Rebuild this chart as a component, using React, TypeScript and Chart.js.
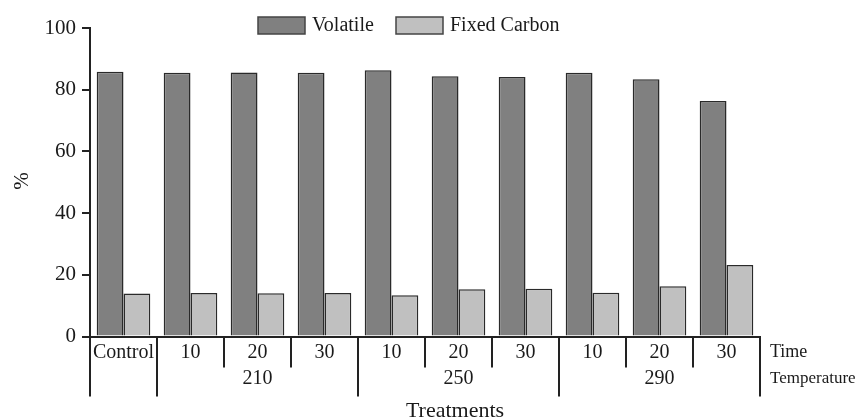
import React, { useEffect, useRef } from "react";
import { Chart, registerables } from "chart.js";

Chart.register(...registerables);

const timeLabels = ["Control", "10", "20", "30", "10", "20", "30", "10", "20", "30"];
const temperatureLabels = ["210", "250", "290"];
const temperatureStart = [1, 4, 7];
const temperatureEnd = [3, 6, 9];
const volatile = [85.8, 85.5, 85.6, 85.5, 86.3, 84.4, 84.1, 85.5, 83.4, 76.3];
const fixedCarbon = [13.9, 14.1, 14.0, 14.1, 13.4, 15.3, 15.5, 14.2, 16.3, 23.2];
const seriesNames = ["Volatile", "Fixed Carbon"];
const yTicks = [0, 20, 40, 60, 80, 100];

const FONT = "'Liberation Serif', 'Times New Roman', serif";
const INK = "#1a1a1a";

const decorPlugin = {
  id: "decor",
  afterDraw(chart: any) {
    const ctx = chart.ctx;
    const x = chart.scales.x;
    const area = chart.chartArea;
    const half = (x.getPixelForValue(1) - x.getPixelForValue(0)) / 2;
    const axisY = area.bottom;
    ctx.save();
    // separators
    ctx.strokeStyle = "#222";
    ctx.lineWidth = 2;
    const longBounds = new Set<number>([0, ...temperatureStart, timeLabels.length]);
    for (let i = 0; i <= timeLabels.length; i++) {
      const px = i < timeLabels.length ? x.getPixelForValue(i) - half : x.getPixelForValue(i - 1) + half;
      const isLong = longBounds.has(i);
      ctx.beginPath();
      ctx.moveTo(px, axisY);
      ctx.lineTo(px, axisY + (isLong ? 60 : 31));
      ctx.stroke();
    }
    // temperature row
    ctx.fillStyle = INK;
    ctx.font = `20px ${FONT}`;
    ctx.textAlign = "center";
    ctx.textBaseline = "middle";
    temperatureLabels.forEach((t, k) => {
      const cx = (x.getPixelForValue(temperatureStart[k]) + x.getPixelForValue(temperatureEnd[k])) / 2;
      ctx.fillText(t, cx, axisY + 42);
    });
    // row names
    ctx.textAlign = "left";
    const rightX = x.getPixelForValue(timeLabels.length - 1) + half + 10;
    ctx.font = `18px ${FONT}`;
    ctx.fillText("Time", rightX, axisY + 16);
    ctx.font = `17px ${FONT}`;
    ctx.fillText("Temperature", rightX, axisY + 42);
    // axis title
    ctx.font = `22px ${FONT}`;
    ctx.textAlign = "center";
    ctx.textBaseline = "alphabetic";
    ctx.fillText("Treatments", 455, 417);
    // y title
    ctx.save();
    ctx.translate(22, 181);
    ctx.rotate(-Math.PI / 2);
    ctx.font = `21px ${FONT}`;
    ctx.textBaseline = "middle";
    ctx.fillText("%", 0, 0);
    ctx.restore();
    // legend
    const legendX = [258, 396];
    chart.data.datasets.forEach((ds: any, i: number) => {
      const bx = legendX[i];
      ctx.fillStyle = ds.backgroundColor;
      ctx.fillRect(bx, 17, 47, 17);
      ctx.strokeStyle = "#444";
      ctx.lineWidth = 1.5;
      ctx.strokeRect(bx, 17, 47, 17);
      ctx.fillStyle = INK;
      ctx.font = `20px ${FONT}`;
      ctx.textAlign = "left";
      ctx.textBaseline = "middle";
      ctx.fillText(ds.label, bx + 54, 26);
    });
    ctx.restore();
  },
};

export default function App() {
  const ref = useRef<HTMLCanvasElement>(null);
  useEffect(() => {
    if (!ref.current) return;
    const chart = new Chart(ref.current, {
      type: "bar",
      data: {
        labels: timeLabels,
        datasets: [
          {
            label: seriesNames[0],
            data: volatile,
            backgroundColor: "#808080",
            borderColor: "#2a2a2a",
            borderWidth: 1.5,
            categoryPercentage: 0.8,
            barPercentage: 1,
          },
          {
            label: seriesNames[1],
            data: fixedCarbon,
            backgroundColor: "#c0c0c0",
            borderColor: "#2a2a2a",
            borderWidth: 1.5,
            categoryPercentage: 0.8,
            barPercentage: 1,
          },
        ],
      },
      options: {
        responsive: false,
        animation: false,
        layout: { padding: { left: 0, right: 104, top: 28, bottom: 0 } },
        plugins: { legend: { display: false }, tooltip: { enabled: false } },
        scales: {
          x: {
            type: "category",
            grid: { display: false, drawTicks: false },
            border: { display: true, color: "#222", width: 2 },
            ticks: {
              color: INK,
              font: { family: FONT, size: 20 },
              padding: 4,
              maxRotation: 0,
              autoSkip: false,
            },
            afterFit: (s: any) => {
              s.height = 82.5;
            },
          },
          y: {
            min: 0,
            max: 100,
            afterBuildTicks: (s: any) => {
              s.ticks = yTicks.map((v) => ({ value: v }));
            },
            grid: {
              display: true,
              drawOnChartArea: false,
              drawTicks: true,
              tickLength: 8,
              color: "#222",
              lineWidth: 2,
            },
            border: { display: true, color: "#222", width: 2 },
            ticks: {
              color: INK,
              font: { family: FONT, size: 21 },
              padding: 6,
            },
            afterFit: (s: any) => {
              s.width = 90;
            },
          },
        },
      },
      plugins: [decorPlugin],
    });
    return () => chart.destroy();
  }, []);
  return (
    <div style={{ position: "absolute", left: 0, top: 0, width: 864, height: 419, background: "#fff" }}>
      <canvas ref={ref} width={864} height={419} />
    </div>
  );
}
